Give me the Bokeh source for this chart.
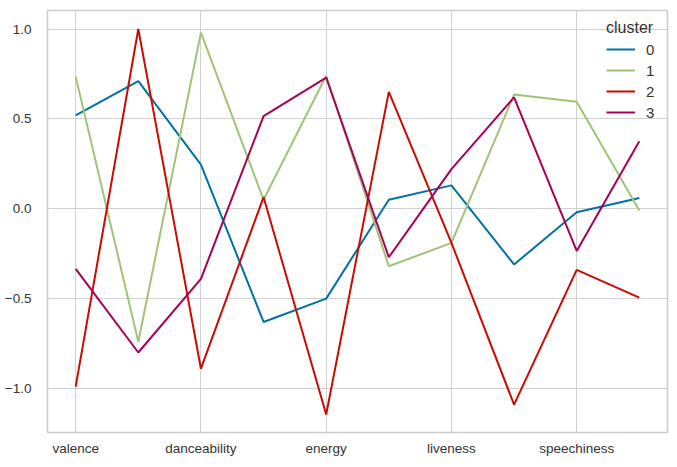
from bokeh.plotting import figure
from bokeh.models import FixedTicker, CustomJSTickFormatter, Range1d, Legend, LegendItem
from bokeh.embed import file_html
from bokeh.resources import INLINE

columns = ["valence", "acousticness", "danceability", "duration_ms", "energy",
           "instrumentalness", "liveness", "loudness", "speechiness", "tempo"]
clusters = ["0", "1", "2", "3"]
cluster0 = [0.52, 0.71, 0.245, -0.63, -0.50, 0.05, 0.13, -0.31, -0.02, 0.06]
cluster1 = [0.735, -0.74, 0.98, 0.05, 0.74, -0.32, -0.19, 0.635, 0.595, -0.01]
cluster2 = [-0.99, 1.0, -0.89, 0.065, -1.145, 0.65, -0.19, -1.09, -0.34, -0.495]
cluster3 = [-0.335, -0.80, -0.39, 0.515, 0.73, -0.27, 0.22, 0.62, -0.235, 0.375]
colors = ["#0272a2", "#9fc377", "#ca0b03", "#a50258"]
shown_ticks = [0, 2, 4, 6, 8]

series = [cluster0, cluster1, cluster2, cluster3]
xs = list(range(len(columns)))

p = figure(width=677, height=467, output_backend="svg", toolbar_location=None,
           x_range=Range1d(-0.45, 9.45), y_range=Range1d(-1.245, 1.103),
           min_border_left=47, min_border_right=10, min_border_top=10, min_border_bottom=35)

items = []
for name, ys, c in zip(clusters, series, colors):
    r = p.line(xs, ys, line_color=c, line_width=2)
    items.append(LegendItem(label=name, renderers=[r]))

p.xaxis.ticker = FixedTicker(ticks=shown_ticks)
p.xaxis.major_label_overrides = {i: columns[i] for i in shown_ticks}
p.yaxis.ticker = FixedTicker(ticks=[-1.0, -0.5, 0.0, 0.5, 1.0])
p.yaxis.formatter = CustomJSTickFormatter(code="return tick.toFixed(1).replace('-', '\u2212');")

for ax in [p.xaxis[0], p.yaxis[0]]:
    ax.axis_line_color = None
    ax.major_tick_line_color = None
    ax.minor_tick_line_color = None
    ax.major_label_text_font = "Liberation Sans"
    ax.major_label_text_font_size = "13.5px"
    ax.major_label_text_color = "#333333"
p.yaxis.major_label_standoff = 10
p.xaxis.major_label_standoff = 2

p.xgrid.grid_line_color = "#d0d0d0"
p.ygrid.grid_line_color = "#d0d0d0"
p.outline_line_color = "#cccccc"
p.outline_line_width = 1.5
p.background_fill_color = "white"
p.border_fill_color = "white"

legend = Legend(items=items, location="top_right", title="cluster",
                title_text_font="Liberation Sans", title_text_font_size="16px",
                title_text_font_style="normal", title_text_color="#333333",
                label_text_font="Liberation Sans", label_text_font_size="15px",
                label_text_color="#333333",
                border_line_alpha=0, background_fill_alpha=0,
                glyph_width=29, glyph_height=18, label_height=18, label_width=12,
                spacing=3, label_standoff=11, padding=0, margin=9, title_standoff=3)
p.add_layout(legend)

open("out.html", "w").write(file_html(p, INLINE))
